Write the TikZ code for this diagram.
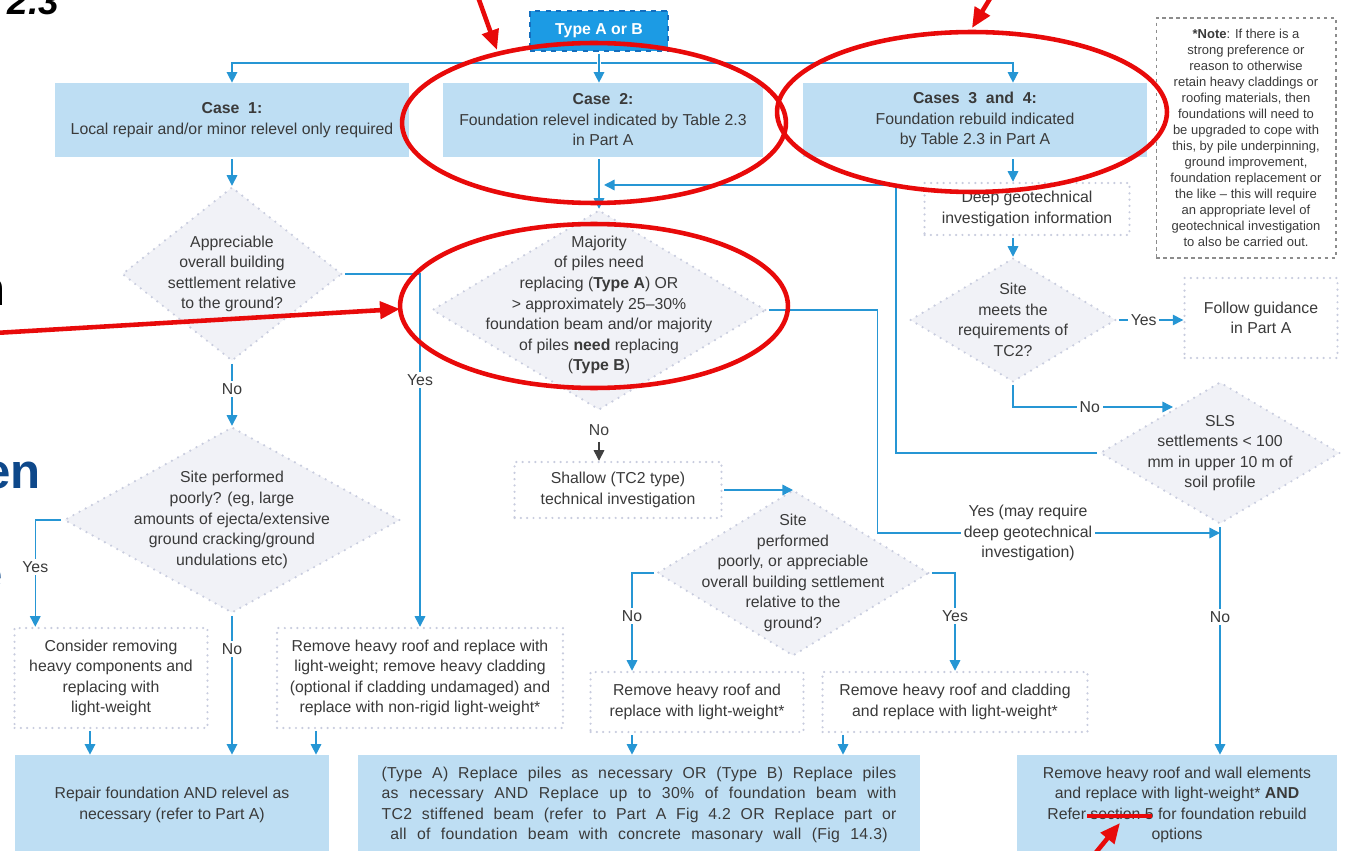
\documentclass[tikz,border=0pt]{standalone}
\usepackage{fontspec}
\setmainfont{Liberation Sans}
\newfontfamily\spacedfont[LetterSpace=2]{Liberation Sans}
\usetikzlibrary{shapes,arrows.meta}

\definecolor{flowblue}{RGB}{38,150,212}
\definecolor{boxblue}{RGB}{190,222,243}
\definecolor{typblue}{RGB}{28,155,228}
\definecolor{typedge}{RGB}{20,110,190}
\definecolor{dotgray}{RGB}{200,204,222}
\definecolor{diafill}{RGB}{241,242,247}
\definecolor{notegray}{RGB}{140,140,140}
\definecolor{txtgray}{RGB}{58,58,58}
\definecolor{markred}{RGB}{232,10,10}
\definecolor{fragblue}{RGB}{14,72,138}

\newcommand\flowsize{\fontsize{9}{11.7}\selectfont}
\newcommand\notesize{\fontsize{7.4}{9.1}\selectfont}
\newcommand\fullline[2][10.3cm]{\makebox[#1][s]{#2}}

\begin{document}
\begin{tikzpicture}[x=0.02cm,y=-0.02cm,
  every node/.style={font=\flowsize,text=txtgray},
  bluebox/.style={fill=boxblue,align=center,inner sep=0pt},
  dotbox/.style={fill=white,draw=dotgray,line width=1.4pt,dash pattern=on 0pt off 3.6pt,line cap=round,align=center,inner sep=0pt},
  dia/.style={diamond,fill=diafill,draw=dotgray,line width=1.4pt,dash pattern=on 0pt off 4pt,line cap=round,inner sep=0pt},
  flow/.style={flowblue,line width=0.8pt},
  arr/.style={flow,shorten <=1pt,-{Triangle[length=6pt,width=6pt]}},
  grayarr/.style={darkgray,line width=0.8pt,-{Triangle[length=6pt,width=6pt]}},
  lab/.style={fill=white,inner sep=1.5pt},
  redmark/.style={markred,line width=2.6pt},
  redarrow/.style={redmark,-{Triangle[length=0.4cm,width=0.34cm]}}]
\path[use as bounding box,clip] (0,0) rectangle (1345,851);

\node[fill=typblue,draw=typedge,dashed,line width=1pt,minimum width=2.76cm,minimum height=0.8cm,text=white,font=\flowsize\bfseries] (typ) at (599,31) {Type A or B};

\node[bluebox,minimum width=7.1cm,minimum height=1.48cm] (c1) at (232,120) {\textbf{Case~ 1:}\\Local repair and/or minor relevel only required};
\node[bluebox,minimum width=6.4cm,minimum height=1.48cm] (c2) at (603,120) {\textbf{Case~ 2:}\\Foundation relevel indicated by Table 2.3\\in Part A};
\node[bluebox,minimum width=6.88cm,minimum height=1.48cm] (c34) at (975,120) {\textbf{Cases~ 3~ and~ 4:}\\Foundation rebuild indicated\\by Table 2.3 in Part A};

\node[draw=notegray,dash pattern=on 2pt off 2pt,line width=0.6pt,minimum width=3.6cm,minimum height=4.8cm,align=center,inner sep=0pt,font=\notesize] (note) at (1246,138) {\textbf{*Note}: If there is a\\strong preference or\\reason to otherwise\\retain heavy claddings or\\roofing materials, then\\foundations will need to\\be upgraded to cope with\\this, by pile underpinning,\\ground improvement,\\foundation replacement or\\the like – this will require\\an appropriate level of\\geotechnical investigation\\to also be carried out.};

\node[dotbox,minimum width=4.1cm,minimum height=1.04cm] (dgi) at (1027,209) {Deep geotechnical\\investigation information};

\node[dia,minimum width=4.4cm,minimum height=3.48cm,label={[align=center]center:Appreciable\\overall building\\settlement relative\\to the ground?}] (app) at (232,274) {};
\node[dia,minimum width=6.68cm,minimum height=4cm,label={[align=center,yshift=0.1cm]center:Majority\\of piles need\\replacing (\textbf{Type A}) OR\\> approximately 25–30\%\\foundation beam and/or majority\\of piles \textbf{need} replacing\\(\textbf{Type B})}] (maj) at (599,310) {};
\node[dia,minimum width=4.12cm,minimum height=2.48cm,label={[align=center]center:Site\\meets the\\requirements of\\TC2?}] (tc2) at (1013,320) {};
\node[dotbox,minimum width=3.06cm,minimum height=1.6cm] (fg) at (1261,318) {Follow guidance\\in Part A};
\node[dia,minimum width=4.8cm,minimum height=2.84cm,label={[align=center]center:SLS\\settlements < 100\\mm in upper 10 m of\\soil profile}] (sls) at (1220,453) {};

\node[dia,minimum width=6.72cm,minimum height=3.72cm,label={[align=center]center:Site performed\\poorly? (eg, large\\amounts of ejecta/extensive\\ground cracking/ground\\undulations etc)}] (spd) at (232,520) {};
\node[dotbox,minimum width=4.14cm,minimum height=1.12cm] (shl) at (618,490) {Shallow (TC2 type)\\technical investigation};
\node[dia,minimum width=5.44cm,minimum height=3.32cm,label={[align=center]center:Site\\performed\\poorly, or appreciable\\overall building settlement\\relative to the\\ground?}] (sit) at (793,573) {};

\node[dotbox,minimum width=3.86cm,minimum height=2cm] (crw) at (111,678) {Consider removing\\heavy components and\\replacing with\\light-weight};
\node[dotbox,minimum width=5.72cm,minimum height=2cm] (rr) at (420,678) {Remove heavy roof and replace with\\light-weight; remove heavy cladding\\(optional if cladding undamaged) and\\replace with non-rigid light-weight*};
\node[dotbox,minimum width=4.26cm,minimum height=1.2cm] (nr1) at (697,702) {Remove heavy roof and\\replace with light-weight*};
\node[dotbox,minimum width=5.3cm,minimum height=1.2cm] (nr2) at (955,702) {Remove heavy roof and cladding\\and replace with light-weight*};

\node[bluebox,minimum width=6.3cm,minimum height=2cm] (rep) at (172,805) {Repair foundation AND relevel as\\necessary (refer to Part A)};
\node[bluebox,minimum width=11.24cm,minimum height=2cm,font=\flowsize\spacedfont] (mid) at (639,805) {\fullline{(Type A) Replace piles as necessary OR (Type B) Replace piles}\\\fullline{as necessary AND Replace up to 30\% of foundation beam with}\\\fullline{TC2 stiffened beam (refer to Part A Fig 4.2 OR Replace part or}\\\fullline[9.95cm]{all of foundation beam with concrete masonary wall (Fig 14.3)}};
\node[bluebox,minimum width=6.4cm,minimum height=2cm] (fin) at (1177,805) {Remove heavy roof and wall elements\\and replace with light-weight* \textbf{AND}\\Refer section 5 for foundation rebuild\\options};

\coordinate (col3) at (1013,0);
\coordinate (back) at (604,185);
\coordinate (slsin) at (1173,407);
\coordinate (join) at (1220,533);

\draw[arr] (typ.south) -- (typ.south |- c2.north);
\draw[arr] (typ.south) ++(0,11) -| (c1.north);
\draw[arr] (typ.south) ++(0,11) -| (c34.north -| col3);

\draw[arr] (c1.south) -- (app.north);
\draw[arr] (app.east) -| node[lab,pos=0.65]{Yes} (rr.north);
\draw[arr] (app.south) -- node[lab,pos=0.42]{No} (spd.north);
\draw[arr] (spd.west) -| node[lab,pos=0.72]{Yes} ([xshift=0.44cm]crw.north west);
\draw[arr] (spd.south) -- node[lab,pos=0.25]{No} (spd.south |- rep.north);
\draw[arr] ([xshift=-0.42cm]crw.south) -- ([xshift=-0.42cm]crw.south |- rep.north);
\draw[arr] ([xshift=-2.08cm]rr.south) -- ([xshift=-2.08cm]rr.south |- rep.north);

\draw[arr] (maj.north |- c2.south) -- (maj.north);
\path (maj.south) -- node[pos=0.38,text=darkgray] (no2) {No} (maj.south |- shl.north);
\draw[grayarr] (no2) -- (no2 |- shl.north);
\draw[arr] (maj.east) -- ++(110,0) |- node[lab,pos=0.72,align=center]{Yes (may require\\deep geotechnical\\investigation)} (join);
\draw[arr] (shl.east) -- (shl.east -| sit.north);
\draw[arr] (sit.west) -| node[lab,pos=0.72]{No} ([xshift=-1.3cm]nr1.north);
\draw[arr] (sit.east) -| node[lab,pos=0.72]{Yes} (nr2.north);
\draw[arr] ([xshift=-1.3cm]nr1.south) -- ([xshift=-1.3cm]nr1.south |- mid.north);
\draw[arr] ([xshift=-2.24cm]nr2.south) -- ([xshift=-2.24cm]nr2.south |- mid.north);

\draw[arr] (c34.south -| col3) -- (dgi.north -| col3);
\draw[arr] (dgi.south -| col3) -- (tc2.north);
\draw[arr] (tc2.east) -- node[lab,pos=0.4]{Yes} (tc2.east -| fg.west);
\draw[arr] (tc2.south) |- node[lab,pos=0.74]{No} (slsin);
\draw[arr] (sls.west) -- ++(-203,0) |- (back);
\draw[arr] (sls.south) -- node[lab,pos=0.4]{No} (sls.south |- fin.north);

\node[anchor=base east,font=\fontsize{21}{24}\selectfont\bfseries\itshape,text=black] (frag1) at (65,15) {2.3};
\node[anchor=base east,font=\fontsize{28}{30}\selectfont\bfseries,text=black] (frag2) at (12,305) {n};
\node[anchor=base east,font=\fontsize{28}{30}\selectfont\bfseries,text=fragblue] (frag3) at (47,488) {en};
\node[anchor=base east,font=\fontsize{28}{30}\selectfont\bfseries,text=fragblue] (frag4) at (9,590) {e};

\draw[redmark] (594,123) ellipse [x radius=3.84cm,y radius=1.6cm];
\draw[redmark] (972,112) ellipse [x radius=3.9cm,y radius=1.6cm];
\draw[redmark] (594,306) ellipse [x radius=3.88cm,y radius=1.64cm];
\draw[redarrow] (478,-3) -- (497,50);
\draw[redarrow] (991,-3) -- (972,28);
\draw[redarrow] (-5,333) -- (400,309);
\draw[redmark,line width=2.8pt] (1087,816) -- (1152,816);
\draw[redarrow] (1093,856) -- (1120,823);
\end{tikzpicture}
\end{document}
